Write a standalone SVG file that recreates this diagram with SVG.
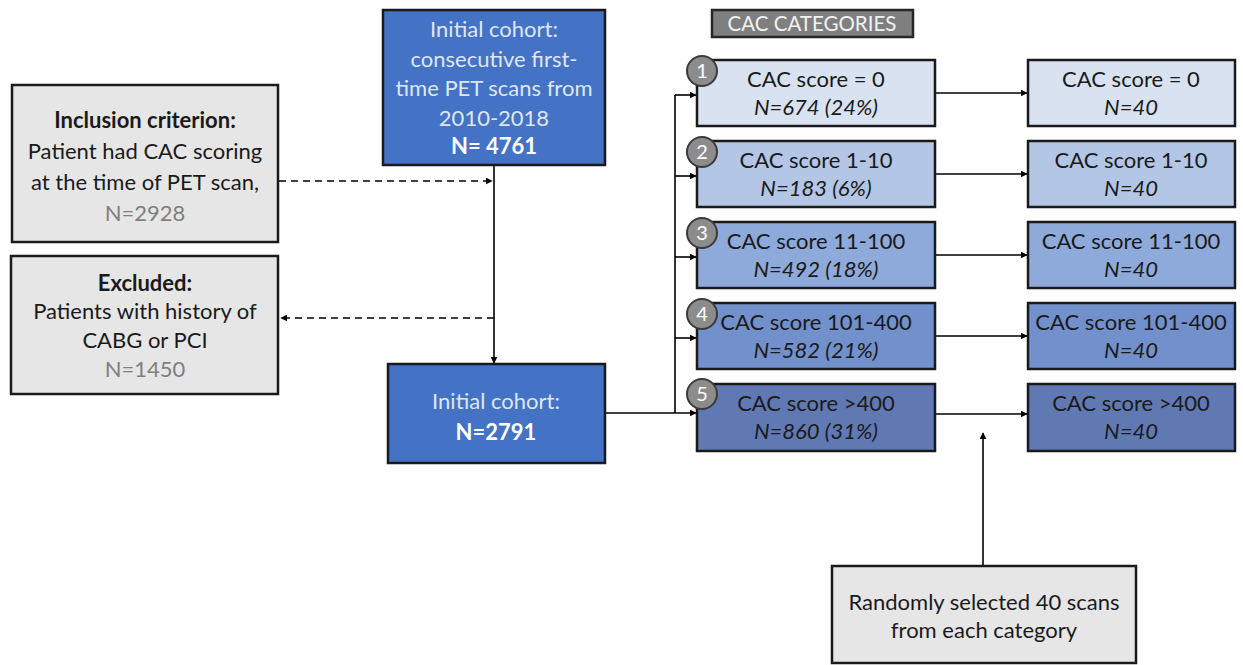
<svg xmlns="http://www.w3.org/2000/svg" width="1243" height="665" viewBox="0 0 1243 665">
  <defs>
    <marker id="arr" viewBox="0 0 10 10" refX="9" refY="5" markerWidth="7" markerHeight="7" markerUnits="userSpaceOnUse" orient="auto">
      <path d="M0,0 L10,5 L0,10 z" fill="#000"/>
    </marker>
    <style>
      text { font-family: Lato, "Open Sans", "Liberation Sans", sans-serif; font-size: 22px; text-anchor: middle; }
      .box { stroke: #1a1a1a; stroke-width: 2.5; }
      .gray { fill: #e6e6e6; }
      .blue { fill: #4472c4; }
      .c1 { fill: #d9e2f1; }
      .c2 { fill: #b4c6e6; }
      .c3 { fill: #8eaadb; }
      .c4 { fill: #7290cc; }
      .c5 { fill: #6079b3; }
      .wt { fill: #dfe7f4; }
      .wb { fill: #ffffff; font-weight: bold; }
      .dk { fill: #1a1a1a; }
      .b { font-weight: bold; }
      .mute { fill: #7f7f7f; }
      .it { font-style: italic; }
      .badge { fill: #8c8c8c; stroke: #3a3a3a; stroke-width: 2; }
      .badge-t { fill: #ffffff; font-size: 20px; }
      .title { fill: #f2f2f2; font-size: 20.5px; }
      .line { stroke: #000; stroke-width: 1.6; fill: none; }
      .dash { stroke-dasharray: 7 5; }
    </style>
  </defs>
  <rect width="1243" height="665" fill="#ffffff"/>

  <g id="connectors">
    <line class="line dash" x1="279" y1="181" x2="492" y2="181" marker-end="url(#arr)"/>
    <line class="line dash" x1="494" y1="318" x2="281" y2="318" marker-end="url(#arr)"/>
    <line class="line" x1="494" y1="165" x2="494" y2="363" marker-end="url(#arr)"/>
    <line class="line" x1="605" y1="413" x2="696" y2="413" marker-end="url(#arr)"/>
    <line class="line" x1="675" y1="95" x2="675" y2="413"/>
    <line class="line" x1="675" y1="95" x2="696" y2="95" marker-end="url(#arr)"/>
    <line class="line" x1="675" y1="176" x2="696" y2="176" marker-end="url(#arr)"/>
    <line class="line" x1="675" y1="257" x2="696" y2="257" marker-end="url(#arr)"/>
    <line class="line" x1="675" y1="338" x2="696" y2="338" marker-end="url(#arr)"/>
    <line class="line" x1="935" y1="93" x2="1027" y2="93" marker-end="url(#arr)"/>
    <line class="line" x1="935" y1="174" x2="1027" y2="174" marker-end="url(#arr)"/>
    <line class="line" x1="935" y1="255" x2="1027" y2="255" marker-end="url(#arr)"/>
    <line class="line" x1="935" y1="336" x2="1027" y2="336" marker-end="url(#arr)"/>
    <line class="line" x1="935" y1="414" x2="1027" y2="414" marker-end="url(#arr)"/>
    <line class="line" x1="983" y1="566" x2="983" y2="433" marker-end="url(#arr)"/>
  </g>

  <g id="inclusion">
    <rect class="box gray" x="12" y="85" width="266" height="157"/>
    <text class="b dk" x="145" y="128">Inclusion criterion:</text>
    <text class="dk" x="145" y="159">Patient had CAC scoring</text>
    <text class="dk" x="145" y="190">at the time of PET scan,</text>
    <text class="mute" x="145" y="221">N=2928</text>
  </g>

  <g id="excluded">
    <rect class="box gray" x="11" y="256" width="267" height="138"/>
    <text class="b dk" x="145" y="291">Excluded:</text>
    <text class="dk" x="145" y="319">Patients with history of</text>
    <text class="dk" x="145" y="348">CABG or PCI</text>
    <text class="mute" x="145" y="377">N=1450</text>
  </g>

  <g id="cohort-start">
    <rect class="box blue" x="383" y="10" width="222" height="155"/>
    <text class="wt" x="494" y="37">Initial cohort:</text>
    <text class="wt" x="494" y="67">consecutive first-</text>
    <text class="wt" x="494" y="96">time PET scans from</text>
    <text class="wt" x="494" y="126">2010-2018</text>
    <text class="wb" x="494" y="154">N= 4761</text>
  </g>

  <g id="cohort-final">
    <rect class="box blue" x="388" y="364" width="217" height="99"/>
    <text class="wt" x="496" y="409">Initial cohort:</text>
    <text class="wb" x="496" y="440">N=2791</text>
  </g>

  <g id="categories-title">
    <rect x="712" y="10" width="201" height="27" fill="#7f7f7f" stroke="#262626" stroke-width="2.5"/>
    <text class="title" x="812" y="31">CAC CATEGORIES</text>
  </g>

  <g id="cat-1">
    <rect class="box c1" x="697" y="60" width="238" height="66"/>
    <text class="dk" x="816" y="87">CAC score = 0</text>
    <text class="dk it" x="816" y="115">N=674 (24%)</text>
    <circle class="badge" cx="702" cy="71" r="15"/>
    <text class="badge-t" x="702" y="78">1</text>
  </g>
  <g id="cat-2">
    <rect class="box c2" x="697" y="141" width="238" height="66"/>
    <text class="dk" x="816" y="168">CAC score 1-10</text>
    <text class="dk it" x="816" y="196">N=183 (6%)</text>
    <circle class="badge" cx="702" cy="152" r="15"/>
    <text class="badge-t" x="702" y="159">2</text>
  </g>
  <g id="cat-3">
    <rect class="box c3" x="697" y="222" width="238" height="66"/>
    <text class="dk" x="816" y="249">CAC score 11-100</text>
    <text class="dk it" x="816" y="277">N=492 (18%)</text>
    <circle class="badge" cx="702" cy="233" r="15"/>
    <text class="badge-t" x="702" y="240">3</text>
  </g>
  <g id="cat-4">
    <rect class="box c4" x="697" y="303" width="238" height="66"/>
    <text class="dk" x="816" y="330">CAC score 101-400</text>
    <text class="dk it" x="816" y="358">N=582 (21%)</text>
    <circle class="badge" cx="702" cy="314" r="15"/>
    <text class="badge-t" x="702" y="321">4</text>
  </g>
  <g id="cat-5">
    <rect class="box c5" x="697" y="384" width="238" height="67"/>
    <text class="dk" x="816" y="411">CAC score &gt;400</text>
    <text class="dk it" x="816" y="439">N=860 (31%)</text>
    <circle class="badge" cx="702" cy="394" r="15"/>
    <text class="badge-t" x="702" y="401">5</text>
  </g>

  <g id="sample-1">
    <rect class="box c1" x="1028" y="60" width="207" height="66"/>
    <text class="dk" x="1131" y="87">CAC score = 0</text>
    <text class="dk it" x="1131" y="115">N=40</text>
  </g>
  <g id="sample-2">
    <rect class="box c2" x="1028" y="141" width="207" height="66"/>
    <text class="dk" x="1131" y="168">CAC score 1-10</text>
    <text class="dk it" x="1131" y="196">N=40</text>
  </g>
  <g id="sample-3">
    <rect class="box c3" x="1028" y="222" width="207" height="66"/>
    <text class="dk" x="1131" y="249">CAC score 11-100</text>
    <text class="dk it" x="1131" y="277">N=40</text>
  </g>
  <g id="sample-4">
    <rect class="box c4" x="1028" y="303" width="207" height="66"/>
    <text class="dk" x="1131" y="330">CAC score 101-400</text>
    <text class="dk it" x="1131" y="358">N=40</text>
  </g>
  <g id="sample-5">
    <rect class="box c5" x="1028" y="384" width="207" height="67"/>
    <text class="dk" x="1131" y="411">CAC score &gt;400</text>
    <text class="dk it" x="1131" y="439">N=40</text>
  </g>

  <g id="random-selection">
    <rect class="box gray" x="832" y="566" width="304" height="97"/>
    <text class="dk" x="984" y="610">Randomly selected 40 scans</text>
    <text class="dk" x="984" y="638">from each category</text>
  </g>
</svg>
